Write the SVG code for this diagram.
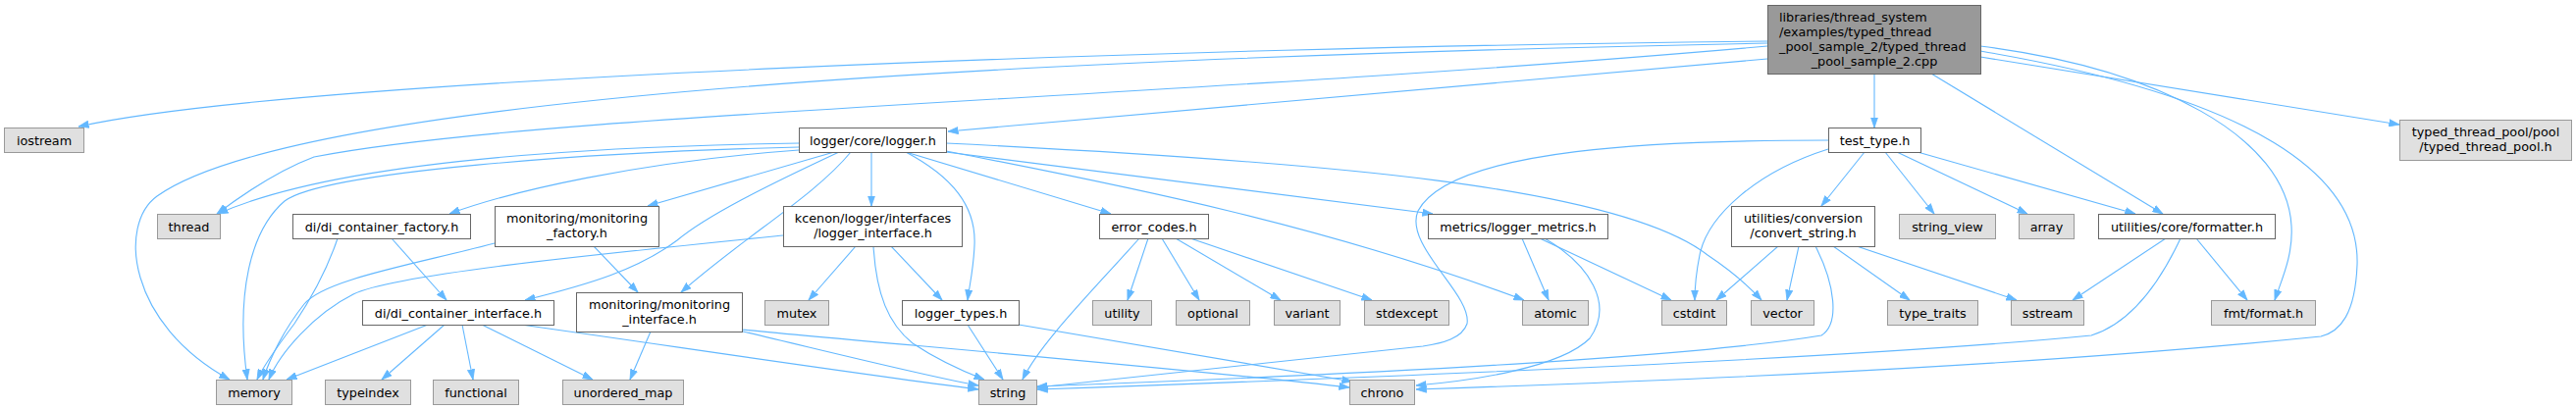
<svg xmlns="http://www.w3.org/2000/svg" width="2625" height="417" viewBox="0 0 2625 417">
<style>
.e{fill:none;stroke:#63b8ff;stroke-width:1.1;marker-end:url(#ah)}
.w{fill:#ffffff;stroke:#666666;stroke-width:1}
.g{fill:#e0e0e0;stroke:#999999;stroke-width:1}
.m{fill:#999999;stroke:#666666;stroke-width:1}
text{font-family:"DejaVu Sans",sans-serif;font-size:12.8px;fill:#000000;text-anchor:middle}
text.l{text-anchor:start}
</style>
<defs>
<marker id="ah" markerUnits="userSpaceOnUse" markerWidth="11" markerHeight="8" viewBox="0 0 11 8" refX="10.5" refY="4" orient="auto">
<path d="M0,0.4 L10.5,4 L0,7.6 z" fill="#63b8ff" stroke="#63b8ff" stroke-width="0.8"/>
</marker>
</defs>
<rect x="0" y="0" width="2625" height="417" fill="#ffffff"/>
<g id="edges">
<path class="e" d="M1801,42 C1200,48 300,80 80,129"/>
<path class="e" d="M1801,44 C1000,60 300,100 160,200 C120,229 130,330 234,387"/>
<path class="e" d="M1801,47 C1200,100 550,115 320,160 C280,175 245,200 221,218"/>
<path class="e" d="M1801,60 L966,134"/>
<path class="e" d="M1910,75 L1910,130"/>
<path class="e" d="M1968,75 L2204,218"/>
<path class="e" d="M2018,47 C2200,70 2330,140 2335,230 C2337,260 2325,285 2318,306"/>
<path class="e" d="M2018,52 C2300,100 2405,180 2402,270 C2400,320 2385,338 2365,343 C2100,370 1800,385 1443,397"/>
<path class="e" d="M2018,58 L2445,127"/>
<path class="e" d="M814,146 C550,150 330,170 222,218"/>
<path class="e" d="M814,150 C600,155 330,175 290,205 C255,235 240,300 252,387"/>
<path class="e" d="M814,153 C650,165 520,195 458,218"/>
<path class="e" d="M850,155 L660,210"/>
<path class="e" d="M855,155 C780,190 720,220 690,245 C650,275 600,290 535,306"/>
<path class="e" d="M867,155 C830,200 760,240 694,298"/>
<path class="e" d="M888,155 L888,210"/>
<path class="e" d="M923,155 C970,180 995,210 993,250 C992,275 988,290 986,306"/>
<path class="e" d="M923,155 L1132,218"/>
<path class="e" d="M964,154 C1150,190 1350,230 1553,306"/>
<path class="e" d="M964,155 L1460,218"/>
<path class="e" d="M964,146 C1350,165 1650,190 1740,260 C1770,280 1785,295 1795,306"/>
<path class="e" d="M1863,143 C1700,143 1480,150 1445,215 C1430,250 1500,300 1495,330 C1490,345 1470,350 1450,353 C1300,370 1150,385 1057,395"/>
<path class="e" d="M1863,152 C1790,175 1740,220 1732,260 C1728,280 1727,295 1727,306"/>
<path class="e" d="M1900,155 L1856,210"/>
<path class="e" d="M1921,155 L1971,218"/>
<path class="e" d="M1933,155 L2066,218"/>
<path class="e" d="M1954,155 L2176,218"/>
<path class="e" d="M344,243 C335,270 320,300 300,330 C285,350 270,370 262,387"/>
<path class="e" d="M399,243 L455,306"/>
<path class="e" d="M504,248 C420,270 330,285 310,310 C290,335 275,365 268,387"/>
<path class="e" d="M605,251 L650,298"/>
<path class="e" d="M798,240 C600,260 400,280 360,300 C320,320 285,360 274,387"/>
<path class="e" d="M872,251 L824,306"/>
<path class="e" d="M908,251 L960,306"/>
<path class="e" d="M890,251 C893,300 905,330 930,350 C960,370 985,380 1003,387"/>
<path class="e" d="M1161,243 C1110,300 1060,350 1042,387"/>
<path class="e" d="M1170,243 L1149,306"/>
<path class="e" d="M1184,243 L1222,306"/>
<path class="e" d="M1198,243 L1305,306"/>
<path class="e" d="M1213,243 L1398,306"/>
<path class="e" d="M1551,243 L1578,306"/>
<path class="e" d="M1569,243 L1703,306"/>
<path class="e" d="M1574,243 C1620,270 1645,310 1620,345 C1590,375 1500,388 1443,393"/>
<path class="e" d="M1812,251 L1749,306"/>
<path class="e" d="M1833,251 L1821,306"/>
<path class="e" d="M1850,251 C1870,290 1875,330 1856,342 C1700,368 1300,385 1057,394"/>
<path class="e" d="M1868,251 L1946,306"/>
<path class="e" d="M1892,251 L2055,306"/>
<path class="e" d="M2207,243 L2112,306"/>
<path class="e" d="M2222,243 C2200,290 2170,330 2131,342 C1900,365 1400,385 1057,397"/>
<path class="e" d="M2238,243 L2290,306"/>
<path class="e" d="M436,331 L292,387"/>
<path class="e" d="M453,331 L389,387"/>
<path class="e" d="M471,331 L482,387"/>
<path class="e" d="M491,331 L604,387"/>
<path class="e" d="M531,331 C700,355 850,378 997,397"/>
<path class="e" d="M663,338 L642,387"/>
<path class="e" d="M757,338 C850,360 950,385 997,393"/>
<path class="e" d="M756,336 C900,350 1200,375 1375,395"/>
<path class="e" d="M986,331 L1022,387"/>
<path class="e" d="M1038,331 L1378,389"/>
</g>
<g id="node-main"><rect class="m" x="1801.5" y="5.5" width="217" height="70"/>
<text class="l" x="1813" y="21.5">libraries/thread_system</text>
<text class="l" x="1813" y="36.5">/examples/typed_thread</text>
<text class="l" x="1813" y="51.5">_pool_sample_2/typed_thread</text>
<text x="1910" y="66.5">_pool_sample_2.cpp</text></g>
<g id="node-iostream"><rect class="g" x="4.5" y="130.5" width="81" height="25"/><text x="45" y="147.5">iostream</text></g>
<g id="node-logger"><rect class="w" x="814.5" y="130.5" width="150" height="25"/><text x="889.5" y="147.5">logger/core/logger.h</text></g>
<g id="node-test_type"><rect class="w" x="1863.5" y="130.5" width="94" height="25"/><text x="1910.5" y="147.5">test_type.h</text></g>
<g id="node-typed_thread_pool"><rect class="g" x="2445.5" y="122.5" width="175" height="41"/><text x="2533" y="139">typed_thread_pool/pool</text><text x="2533" y="154">/typed_thread_pool.h</text></g>
<g id="node-thread"><rect class="g" x="160.5" y="218.5" width="64" height="25"/><text x="192.5" y="235.5">thread</text></g>
<g id="node-di_factory"><rect class="w" x="298.5" y="218.5" width="181" height="25"/><text x="389" y="235.5">di/di_container_factory.h</text></g>
<g id="node-mon_factory"><rect class="w" x="504.5" y="210.5" width="167" height="41"/><text x="588" y="227">monitoring/monitoring</text><text x="588" y="242">_factory.h</text></g>
<g id="node-logger_interface"><rect class="w" x="798.5" y="210.5" width="182" height="41"/><text x="889.5" y="227">kcenon/logger/interfaces</text><text x="889.5" y="242">/logger_interface.h</text></g>
<g id="node-error_codes"><rect class="w" x="1120.5" y="218.5" width="111" height="25"/><text x="1176" y="235.5">error_codes.h</text></g>
<g id="node-metrics"><rect class="w" x="1455.5" y="218.5" width="183" height="25"/><text x="1547" y="235.5">metrics/logger_metrics.h</text></g>
<g id="node-convert_string"><rect class="w" x="1764.5" y="210.5" width="146" height="41"/><text x="1837.5" y="227">utilities/conversion</text><text x="1837.5" y="242">/convert_string.h</text></g>
<g id="node-string_view"><rect class="g" x="1935.5" y="218.5" width="98" height="25"/><text x="1984.5" y="235.5">string_view</text></g>
<g id="node-array"><rect class="g" x="2057.5" y="218.5" width="56" height="25"/><text x="2085.5" y="235.5">array</text></g>
<g id="node-formatter"><rect class="w" x="2138.5" y="218.5" width="180" height="25"/><text x="2228.5" y="235.5">utilities/core/formatter.h</text></g>
<g id="node-di_interface"><rect class="w" x="369.5" y="306.5" width="195" height="25"/><text x="467" y="323.5">di/di_container_interface.h</text></g>
<g id="node-mon_interface"><rect class="w" x="587.5" y="298.5" width="169" height="40"/><text x="672" y="315">monitoring/monitoring</text><text x="672" y="330">_interface.h</text></g>
<g id="node-mutex"><rect class="g" x="779.5" y="306.5" width="65" height="25"/><text x="812" y="323.5">mutex</text></g>
<g id="node-logger_types"><rect class="w" x="919.5" y="306.5" width="119" height="25"/><text x="979" y="323.5">logger_types.h</text></g>
<g id="node-utility"><rect class="g" x="1113.5" y="306.5" width="60" height="25"/><text x="1143.5" y="323.5">utility</text></g>
<g id="node-optional"><rect class="g" x="1198.5" y="306.5" width="75" height="25"/><text x="1236" y="323.5">optional</text></g>
<g id="node-variant"><rect class="g" x="1298.5" y="306.5" width="67" height="25"/><text x="1332" y="323.5">variant</text></g>
<g id="node-stdexcept"><rect class="g" x="1390.5" y="306.5" width="86" height="25"/><text x="1433.5" y="323.5">stdexcept</text></g>
<g id="node-atomic"><rect class="g" x="1551.5" y="306.5" width="67" height="25"/><text x="1585" y="323.5">atomic</text></g>
<g id="node-cstdint"><rect class="g" x="1693.5" y="306.5" width="66" height="25"/><text x="1726.5" y="323.5">cstdint</text></g>
<g id="node-vector"><rect class="g" x="1784.5" y="306.5" width="64" height="25"/><text x="1816.5" y="323.5">vector</text></g>
<g id="node-type_traits"><rect class="g" x="1923.5" y="306.5" width="92" height="25"/><text x="1969.5" y="323.5">type_traits</text></g>
<g id="node-sstream"><rect class="g" x="2049.5" y="306.5" width="74" height="25"/><text x="2086.5" y="323.5">sstream</text></g>
<g id="node-fmt_format"><rect class="g" x="2253.5" y="306.5" width="106" height="25"/><text x="2306.5" y="323.5">fmt/format.h</text></g>
<g id="node-memory"><rect class="g" x="220.5" y="387.5" width="77" height="25"/><text x="259" y="404.5">memory</text></g>
<g id="node-typeindex"><rect class="g" x="331.5" y="387.5" width="87" height="25"/><text x="375" y="404.5">typeindex</text></g>
<g id="node-functional"><rect class="g" x="441.5" y="387.5" width="87" height="25"/><text x="485" y="404.5">functional</text></g>
<g id="node-unordered_map"><rect class="g" x="573.5" y="387.5" width="123" height="25"/><text x="635" y="404.5">unordered_map</text></g>
<g id="node-string"><rect class="g" x="997.5" y="387.5" width="59" height="25"/><text x="1027" y="404.5">string</text></g>
<g id="node-chrono"><rect class="g" x="1375.5" y="387.5" width="66" height="25"/><text x="1408.5" y="404.5">chrono</text></g>
</svg>
